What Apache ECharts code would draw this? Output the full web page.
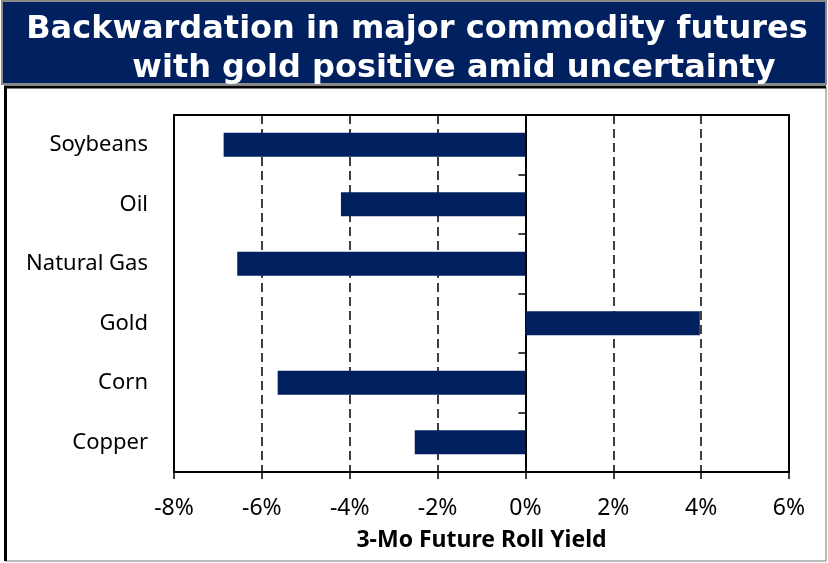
<!DOCTYPE html>
<html>
<head>
<meta charset="utf-8">
<script src="https://cdn.jsdelivr.net/npm/echarts@6/dist/echarts.min.js"></script>
<style>
  html, body { margin: 0; padding: 0; background: #fff; }
  #chart { width: 828px; height: 563px; }
</style>
</head>
<body>
<div id="chart"></div>
<script>
// 商品期货3个月展期收益
const categories = ['Soybeans', 'Oil', 'Natural Gas', 'Gold', 'Corn', 'Copper']
const rollYield = [-6.87, -4.2, -6.56, 3.97, -5.64, -2.52]
const xTicks = { min: -8, max: 6, interval: 2 }
const titleLines = ['Backwardation in major commodity futures', 'with gold positive amid uncertainty']
const axisTitle = '3-Mo Future Roll Yield'

const navy = '#002060'
const chart = echarts.init(document.getElementById('chart'))

const option = {
  backgroundColor: '#fff',
  animation: false,
  graphic: [
    // 顶部标题色块
    { type: 'rect', shape: { x: 2, y: 1, width: 824, height: 83 },
      style: { fill: navy, stroke: '#8a8a8a', lineWidth: 2 }, z: 0 },
    // 图表外框
    { type: 'rect', shape: { x: 5, y: 87, width: 821, height: 474 },
      style: { fill: 'none', stroke: '#777', lineWidth: 1 }, z: 0 },
    { type: 'polyline', shape: { points: [[5.5, 561], [5.5, 87], [826, 87]] },
      style: { fill: 'none', stroke: '#000', lineWidth: 3 }, z: 1 }
  ],
  title: [
    { text: titleLines[0], left: 412, top: 9, textAlign: 'center',
      textStyle: { color: '#fff', fontFamily: 'DejaVu Sans', fontWeight: 'bold', fontSize: 32 } },
    { text: titleLines[1], left: 449, top: 48, textAlign: 'center',
      textStyle: { color: '#fff', fontFamily: 'DejaVu Sans', fontWeight: 'bold', fontSize: 32 } }
  ],
  grid: {
    left: 174, right: 39, top: 115, bottom: 91, containLabel: false,
    show: true, borderColor: '#000', borderWidth: 2
  },
  xAxis: [
    {
      type: 'value',
      min: xTicks.min,
      max: xTicks.max,
      interval: xTicks.interval,
      name: axisTitle,
      nameLocation: 'middle',
      nameGap: 57,
      nameTextStyle: { color: '#000', fontFamily: 'Noto Sans', fontWeight: 'bold', fontSize: 23 },
      axisLine: { show: true, lineStyle: { color: '#000', width: 2 } },
      axisTick: { show: true, length: 7, lineStyle: { color: '#000', width: 1.5 } },
      axisLabel: {
        margin: 25,
        color: '#000',
        fontFamily: 'Noto Sans',
        fontSize: 23,
        formatter: v => v + '%'
      },
      splitLine: { show: true, lineStyle: { color: '#000', width: 1.5, type: [9, 5] } }
    }
  ],
  yAxis: [
    {
      type: 'category',
      data: categories,
      inverse: true,
      position: 'left',
      axisLine: { show: false, onZero: false },
      axisTick: { show: false },
      axisLabel: { margin: 26, color: '#000', fontFamily: 'Noto Sans', fontSize: 22 }
    },
    {
      // 0% 处的纵轴线和刻度
      type: 'category',
      data: categories,
      inverse: true,
      position: 'left',
      axisLine: { show: true, onZero: true, lineStyle: { color: '#000', width: 2 } },
      axisTick: { show: true, length: 7, lineStyle: { color: '#000', width: 1.5 } },
      axisLabel: { show: false }
    }
  ],
  series: [
    {
      type: 'bar',
      xAxisIndex: 0,
      yAxisIndex: 0,
      data: rollYield,
      barWidth: 24,
      itemStyle: { color: navy },
      z: 1
    }
  ]
}

chart.setOption(option)
</script>
</body>
</html>
